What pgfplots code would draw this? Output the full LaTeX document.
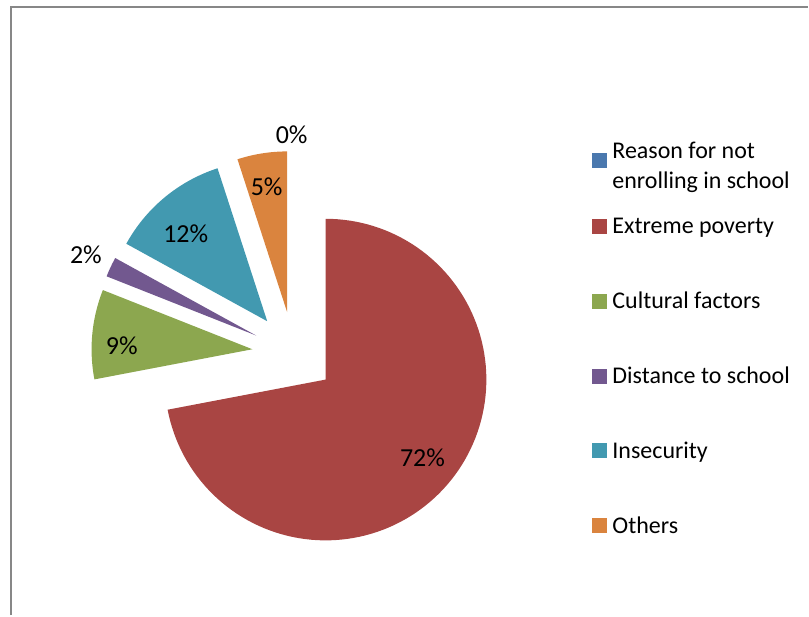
\documentclass[border=0pt]{standalone}
\usepackage{pgfplots}
\pgfplotsset{compat=1.18}
\usepackage{fontspec}
\setmainfont{Carlito}
\definecolor{cblue}{HTML}{4A78AE}
\definecolor{cred}{HTML}{A94543}
\definecolor{cgreen}{HTML}{8CA74F}
\definecolor{cpurple}{HTML}{72588F}
\definecolor{cteal}{HTML}{4299B0}
\definecolor{corange}{HTML}{DA843E}
\definecolor{bordergray}{HTML}{878787}

% data (percent)
\def\vReason{0}
\def\vPoverty{72}
\def\vCultural{9}
\def\vDistance{2}
\def\vInsecurity{12}
\def\vOthers{5}

% cumulative angles, clockwise from 12 o'clock
\pgfmathsetmacro\aA{90-3.6*\vReason}
\pgfmathsetmacro\aB{\aA-3.6*\vPoverty}
\pgfmathsetmacro\aC{\aB-3.6*\vCultural}
\pgfmathsetmacro\aD{\aC-3.6*\vDistance}
\pgfmathsetmacro\aE{\aD-3.6*\vInsecurity}
\pgfmathsetmacro\aF{\aE-3.6*\vOthers}

\newcommand\slice[3]{%
  \pgfmathsetmacro\midang{(#2+#3)/2}%
  \pgfmathsetmacro\ax{294+41.5*cos(\midang)}%
  \pgfmathsetmacro\ay{262.4+41.5*sin(\midang)}%
  \edef\doslice{\noexpand\addplot[forget plot, fill=#1, draw=none, domain=#3:#2, samples=120, variable=\noexpand\t]
    ({\ax+161*cos(\noexpand\t)},{\ay+161*sin(\noexpand\t)}) -- (axis cs:\ax,\ay) -- cycle;}%
  \doslice}

\begin{document}
\begin{tikzpicture}
\begin{axis}[
  x=0.5pt, y=0.5pt,
  xmin=0, xmax=809, ymin=0, ymax=616,
  axis line style={draw=none},
  xtick=\empty, ytick=\empty,
  clip=false,
  legend style={
    draw=none, fill=none, inner sep=0pt,
    at={(0.73177,0.81575)}, anchor=north west,
    row sep=0pt, column sep=3pt,
    cells={anchor=west},
    nodes={inner sep=0pt, text height=22.55pt, text depth=14.95pt},
    font=\fontsize{12}{15}\selectfont,
  },
]
\slice{cred}{\aA}{\aB}
\slice{cgreen}{\aB}{\aC}
\slice{cpurple}{\aC}{\aD}
\slice{cteal}{\aD}{\aE}
\slice{corange}{\aE}{\aF}

\addlegendimage{legend image code/.code={\fill[cblue] (0pt,-8pt) rectangle (7pt,-1pt);}}
\addlegendentry{\begin{tabular}[t]{@{}l@{}}Reason for not\\enrolling in school\end{tabular}}
\addlegendimage{legend image code/.code={\fill[cred] (0pt,-3.5pt) rectangle (7pt,3.5pt);}}
\addlegendentry{Extreme poverty}
\addlegendimage{legend image code/.code={\fill[cgreen] (0pt,-3.5pt) rectangle (7pt,3.5pt);}}
\addlegendentry{Cultural factors}
\addlegendimage{legend image code/.code={\fill[cpurple] (0pt,-3.5pt) rectangle (7pt,3.5pt);}}
\addlegendentry{Distance to school}
\addlegendimage{legend image code/.code={\fill[cteal] (0pt,-3.5pt) rectangle (7pt,3.5pt);}}
\addlegendentry{Insecurity}
\addlegendimage{legend image code/.code={\fill[corange] (0pt,-3.5pt) rectangle (7pt,3.5pt);}}
\addlegendentry{Others}

\draw[bordergray, line width=1pt] (axis cs:11,0) -- (axis cs:11,609) -- (axis cs:809,609);

\begin{scope}[every node/.style={font=\fontsize{13}{15}\selectfont, inner sep=0pt}]
\node at (axis cs:423,158) {72\%};
\node at (axis cs:122,270) {9\%};
\node at (axis cs:86,361) {2\%};
\node at (axis cs:186,382) {12\%};
\node at (axis cs:267,429) {5\%};
\node at (axis cs:292,481) {0\%};
\end{scope}
\end{axis}
\end{tikzpicture}
\end{document}
